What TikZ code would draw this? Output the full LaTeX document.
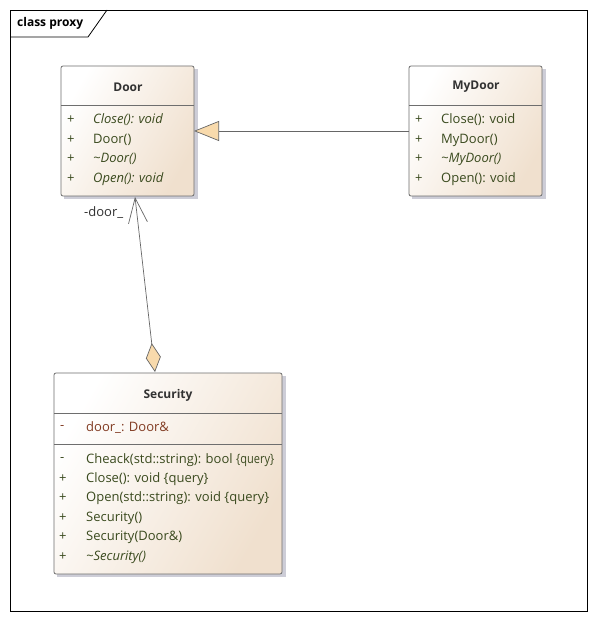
\documentclass[tikz,border=0pt]{standalone}
\usepackage{fontspec}
\usepackage{graphicx}
\setmainfont{Open Sans}
\usetikzlibrary{arrows.meta,shapes.geometric}
\definecolor{optext}{RGB}{58,74,30}
\definecolor{attrtext}{RGB}{130,60,35}
\definecolor{hdtext}{RGB}{50,50,50}
\definecolor{boxline}{RGB}{110,110,110}
\definecolor{beige}{RGB}{240,224,206}
\definecolor{arrowfill}{RGB}{248,218,172}
\definecolor{shadowc}{RGB}{205,205,215}
\newcommand{\txtsize}{\fontsize{13}{15}\selectfont}
\newcommand{\hdsize}{\fontsize{12}{14}\selectfont}
\tikzset{
  classbox/.style={draw=boxline, line width=0.8pt, rounded corners=2pt, left color=white, right color=beige, shading angle=60, inner sep=0pt, outer sep=0pt},
  hd/.style={font=\hdsize\bfseries, text=hdtext, inner sep=0pt},
  op/.style={font=\txtsize, text=optext, anchor=west, inner sep=0pt},
  opi/.style={op, font=\txtsize\itshape},
  attr/.style={op, text=attrtext},
  divider/.style={draw=boxline, line width=0.6pt},
  conn/.style={draw=black!60, line width=0.7pt},
}
\begin{document}
\begin{tikzpicture}[x=1pt,y=-1pt]
\useasboundingbox (0,0) rectangle (596,620);
\fill[white] (0,0) rectangle (596,620);
% frame
\draw[line width=0.8pt] (10,10) rectangle (587,611);
\draw[line width=0.8pt] (10,37) -- (88,37) -- (107,10);
\node[font=\hdsize\bfseries, anchor=west, inner sep=0pt] (title) at (17,23) {class proxy};

% shadows
\fill[shadowc] (64,69) rectangle (198,199);
\fill[shadowc] (412,69) rectangle (546,199);
\fill[shadowc] (57,376) rectangle (286,577);

% Door
\node[classbox, minimum width=133pt, minimum height=130pt] (door) at (127.5,131) {};
\draw[divider] (61,105) -- (194,105);
\node[hd] (doorh) at (128,87) {Door};
\node[op] (d1p) at (67,120) {+};
\node[opi] (d1) at (93,120) {Close(): void};
\node[op] (d2p) at (67,140) {+};
\node[op] (d2) at (93,140) {Door()};
\node[op] (d3p) at (67,159) {+};
\node[opi] (d3) at (93,159) {\textasciitilde Door()};
\node[op] (d4p) at (67,179) {+};
\node[opi] (d4) at (93,179) {Open(): void};

% MyDoor
\node[classbox, minimum width=133pt, minimum height=130pt] (mydoor) at (475.5,131) {};
\draw[divider] (409,105) -- (542,105);
\node[hd] (mydoorh) at (476,87) {MyDoor};
\node[op] (m1p) at (415,120) {+};
\node[op] (m1) at (441,120) {Close(): void};
\node[op] (m2p) at (415,140) {+};
\node[op] (m2) at (441,140) {MyDoor()};
\node[op] (m3p) at (415,159) {+};
\node[opi] (m3) at (441,159) {\textasciitilde MyDoor()};
\node[op] (m4p) at (415,179) {+};
\node[op] (m4) at (441,179) {Open(): void};

% Security
\node[classbox, minimum width=228pt, minimum height=201pt] (sec) at (168,473.5) {};
\draw[divider] (54,413) -- (282,413);
\draw[divider] (54,444) -- (282,444);
\node[hd] (sech) at (168,395) {Security};
\node[attr] (s0p) at (60,428) {-};
\node[attr] (s0) at (86,428) {door\_: Door\&};
\node[op] (s1p) at (60,460) {-};
\node[op] (s1) at (86,460) {Cheack(std::string): bool \scalebox{0.85}[1]{\{query\}}};
\node[op] (s2p) at (59,479) {+};
\node[op] (s2) at (86,479) {Close(): void \{query\}};
\node[op] (s3p) at (59,498) {+};
\node[op] (s3) at (86,498) {Open(std::string): void \{query\}};
\node[op] (s4p) at (59,518) {+};
\node[op] (s4) at (86,518) {Security()};
\node[op] (s5p) at (59,537) {+};
\node[op] (s5) at (86,537) {Security(Door\&)};
\node[op] (s6p) at (59,557) {+};
\node[opi] (s6) at (86,557) {\textasciitilde Security()};

% generalization MyDoor -> Door
\draw[conn, -{Triangle[open, fill=arrowfill, length=25pt, width=20pt, line width=0.7pt]}] (mydoor.west |- 0,131) -- (door.east |- 0,131);

% association Security <>--> Door
\coordinate (assocTop) at (135,197);
\coordinate (assocBot) at (155,372);
\draw[conn, {Diamond[open, fill=arrowfill, length=29pt, width=15pt, line width=0.7pt]}-{Straight Barb[length=25pt, width=19pt, line width=0.7pt]}] (assocBot) -- (assocTop);
\node[font=\txtsize, text=hdtext, anchor=west, inner sep=0pt] (rolelbl) at (84,213) {-door\_};
\end{tikzpicture}
\end{document}
